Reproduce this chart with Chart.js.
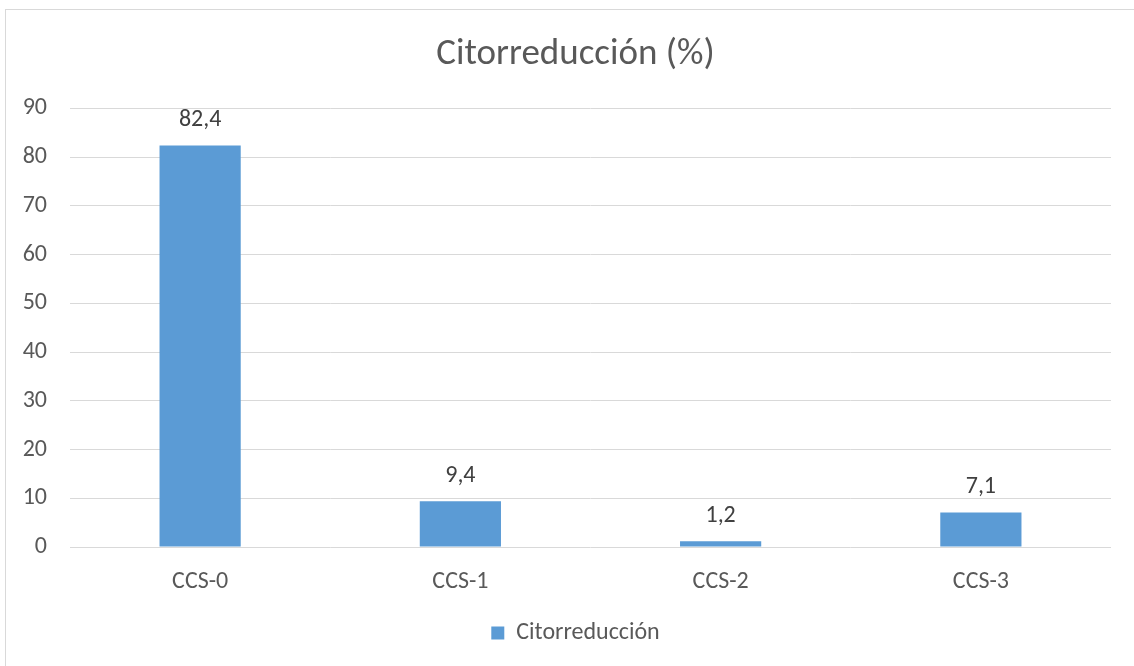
<!DOCTYPE html>
<html>
<head>
<meta charset="utf-8">
<script src="https://cdn.jsdelivr.net/npm/chart.js"></script>
<style>
    body { margin: 0; background: #fff; overflow: hidden; }
    #wrap { position: relative; width: 1134px; height: 666px; }
    #frame {
        position: absolute; left: 5px; top: 9px; width: 1140px; height: 670px;
        border: 1px solid #d9d9d9; box-sizing: border-box; pointer-events: none;
    }
    canvas { position: absolute; left: 0; top: 0; }
</style>
</head>
<body>
<div id="wrap">
    <canvas id="citoChart" width="1134" height="666"></canvas>
    <div id="frame"></div>
</div>
<script>
const categories = ['CCS-0', 'CCS-1', 'CCS-2', 'CCS-3'];
const values = [82.4, 9.4, 1.2, 7.1];
const yTicks = [0, 10, 20, 30, 40, 50, 60, 70, 80, 90];

const textColor = '#595959';
const fontFamily = 'Carlito, Lato, "Open Sans", sans-serif';

// etiquetas de valor encima de cada barra (coma decimal)
const valueLabels = {
    id: 'valueLabels',
    afterDatasetsDraw(chart) {
        const ctx = chart.ctx;
        const meta = chart.getDatasetMeta(0);
        ctx.save();
        ctx.font = '24px ' + fontFamily;
        ctx.fillStyle = '#404040';
        ctx.textAlign = 'center';
        ctx.textBaseline = 'middle';
        meta.data.forEach((bar, i) => {
            ctx.fillText(values[i].toFixed(1).replace('.', ','), bar.x, bar.y - 25);
        });
        ctx.restore();
    }
};

// el marco de Excel es más ancho que la imagen: centrar título y leyenda un poco a la derecha
const shiftBlocks = {
    id: 'shiftBlocks',
    afterLayout(chart) {
        [chart.titleBlock, chart.legend].forEach(b => {
            if (b) { b.left += 20; b.right += 20; }
        });
    }
};

const ctx = document.getElementById('citoChart').getContext('2d');
new Chart(ctx, {
    type: 'bar',
    data: {
        labels: categories,
        datasets: [{
            label: 'Citorreducción',
            data: values,
            backgroundColor: '#5B9BD5',
            borderWidth: 0,
            categoryPercentage: 1,
            barPercentage: 0.312
        }]
    },
    options: {
        responsive: false,
        animation: false,
        layout: {
            padding: { left: 0, right: 23, top: 0, bottom: 11 }
        },
        scales: {
            x: {
                grid: { display: false, drawTicks: false },
                border: { display: false },
                ticks: {
                    color: textColor,
                    padding: 21,
                    font: { family: fontFamily, size: 24 }
                },
                afterFit(scale) { scale.height = 64; }
            },
            y: {
                min: 0,
                max: 90,
                afterBuildTicks(scale) {
                    scale.ticks = yTicks.map(v => ({ value: v }));
                },
                grid: { color: '#d9d9d9', lineWidth: 1, drawTicks: false },
                border: { display: false },
                ticks: {
                    color: textColor,
                    padding: 23,
                    font: { family: fontFamily, size: 24 }
                },
                afterFit(scale) { scale.width = 70; }
            }
        },
        plugins: {
            title: {
                display: true,
                text: 'Citorreducción (%)',
                color: textColor,
                font: { family: fontFamily, size: 37, weight: 'normal' },
                padding: { top: 33, bottom: 31 }
            },
            legend: {
                position: 'bottom',
                labels: {
                    color: textColor,
                    boxWidth: 13,
                    boxHeight: 13,
                    padding: 10,
                    font: { family: fontFamily, size: 24 }
                }
            },
            tooltip: { enabled: false }
        }
    },
    plugins: [valueLabels, shiftBlocks]
});
</script>
</body>
</html>
